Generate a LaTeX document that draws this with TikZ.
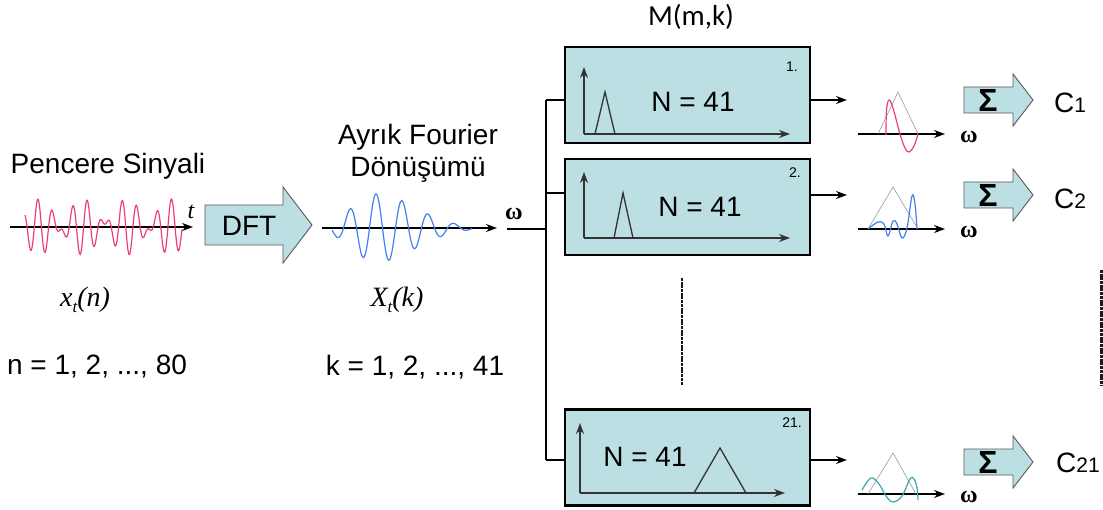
\documentclass[tikz,border=0pt]{standalone}
\usepackage{fontspec}
\setmainfont{Liberation Sans}
\newfontfamily\calibrifont{Carlito}
\newfontfamily\timesfont{Liberation Serif}
\usepackage{tikz}
\usetikzlibrary{arrows.meta,positioning,calc}
\usepackage{xcolor}
\definecolor{boxfill}{RGB}{188,223,227}
\definecolor{sigpink}{RGB}{238,62,122}
\definecolor{sigblue}{RGB}{66,128,240}
\definecolor{sigteal}{RGB}{58,168,168}
\newcommand{\subsc}[1]{\raisebox{-0.45ex}{\fontsize{17}{17}\selectfont #1}}
\newcommand{\cidx}[1]{{\fontsize{21}{21}\selectfont #1}}

\begin{document}
\begin{tikzpicture}[x=1pt, y=-1pt, font=\fontsize{28}{32}\selectfont,
  >={Stealth[length=11pt, width=8pt]},
  filterbox/.style={draw, line width=2.2pt, fill=boxfill, minimum width=245pt,
    minimum height=96pt, inner sep=0pt},
  blockarrow/.style={draw=black!65, line width=0.9pt, fill=boxfill},
  conn/.style={line width=1.5pt},
  minitri/.style={line width=1.3pt, black!80},
  ghosttri/.style={line width=0.6pt, black!40},
  wave/.style={line width=1.2pt},
  omegalab/.style={font=\timesfont\bfseries\fontsize{24}{24}\selectfont},
  numlab/.style={font=\fontsize{14}{14}\selectfont},
  gapline/.style={line width=2.2pt, black!90, dash pattern=on 3pt off 0.7pt}]
\useasboundingbox[fill=white] (0,0) rectangle (1103,510);

% input window signal
\node (pencere) at (108,166) {Pencere Sinyali};
\draw[conn,->] (10,227) -- (193,227);
\draw[wave, sigpink] plot[domain=25:182, samples=300, smooth]
  (\x, {227 - 28*(0.55*sin(\x*21.5) + 0.45*sin(\x*29.7+40))});
\node (tlab) at (191,212) {\timesfont\itshape\fontsize{24}{24}\selectfont t};
\node (xtn) at (85,300) {\timesfont\itshape x\subsc{t}(n)};
\node (nrange) at (97,367) {n = 1, 2, ..., 80};

% DFT block arrow
\draw[blockarrow] (205,205) -- (283,205) -- (283,187) -- (312,225)
  -- (283,263) -- (283,245) -- (205,245) -- cycle;
\node (dft) at (249,226) {DFT};

% spectrum
\node[align=center] (ayrik) at (418,153) {Ayrık Fourier\\Dönüşümü};
\draw[conn,->] (322,228) -- (497,228);
\draw[wave, sigblue] plot[domain=332:376, samples=120, smooth]
  (\x, {228 - 34*exp(-((\x-376)/34)*((\x-376)/34))*cos(13.846*(\x-376))})
  -- plot[domain=376:472, samples=220, smooth]
  (\x, {228 - 34*exp(-((\x-376)/55)*((\x-376)/55))*cos(13.846*(\x-376))});
\node (xtk) at (397,300) {\timesfont\itshape X\subsc{t}(k)};
\node (krange) at (415,367) {k = 1, 2, ..., 41};

% filter bank
\node[omegalab] (om) at (514,214) {ω};
\node (mmk) at (691,17) {\calibrifont\fontsize{29}{29}\selectfont M(m,k)};
\node[filterbox] (box1) at (687.5,95) {};
\node[filterbox] (box2) at (687.5,207) {};
\node[filterbox] (box3) at (687.5,457.5) {};

\coordinate (omstart) at (507,229);
\coordinate (split) at (546,229);
\coordinate (trunktop) at (546,100);
\coordinate (trunkmid) at (546,193);
\coordinate (trunkbot) at (546,460);
\draw[conn] (omstart) -- (split);
\draw[conn] (trunktop) -- (trunkbot);
\draw[conn] (trunktop) -- (box1.west |- trunktop);
\draw[conn] (trunkmid) -- (box2.west |- trunkmid);
\draw[conn] (trunkbot) -- (box3.west |- trunkbot);

% filters inside boxes
\draw[minitri,->] (584,134) -- (584,67);
\draw[minitri,->] (584,134) -- (790,134);
\draw[minitri] (595,134) -- (605,92) -- (615,134);
\node (n1) at (693,102) {N = 41};
\node[numlab] (num1) at (792,67) {1.};

\draw[minitri,->] (584,238) -- (584,172);
\draw[minitri,->] (584,238) -- (790,238);
\draw[minitri] (614,238) -- (623,193) -- (633,238);
\node (n2) at (700,207) {N = 41};
\node[numlab] (num2) at (795,173) {2.};

\draw[minitri,->] (580,493) -- (580,423);
\draw[minitri,->] (580,493) -- (785,493);
\draw[minitri] (694,493) -- (720,448) -- (746,493);
\node (n3) at (645,457) {N = 41};
\node[numlab] (num3) at (792,423) {21.};

% filter outputs
\coordinate (out1) at (847,100);
\coordinate (out2) at (847,195);
\coordinate (out3) at (847,460);
\draw[conn,->] (box1.east |- out1) -- (out1);
\draw[conn,->] (box2.east |- out2) -- (out2);
\draw[conn,->] (box3.east |- out3) -- (out3);

\foreach \ya/\nm in {134/1, 229/2, 494/3} {
  \draw[conn,->] (858,\ya) -- (945,\ya);
  \node[omegalab] (omout\nm) at (969,\ya+3) {ω};
}
\draw[ghosttri] (878,134) -- (898,92) -- (918,134);
\draw[ghosttri] (868,229) -- (893,187) -- (918,229);
\draw[ghosttri] (868,494) -- (893,453) -- (916,494);

\draw[wave, sigpink] plot[smooth, tension=0.6] coordinates {(886,135) (886.5,110) (889,100)
  (893,108) (900,134) (905,148) (909,152) (914,146) (918,134)};
\draw[wave, sigblue] plot[smooth, tension=0.6] coordinates {(868,229) (878,222) (884,224)
  (888,236) (893,221) (897,224) (902,238) (907,228) (912,196) (915,204) (917,229)};
\draw[wave, sigteal] plot[smooth, tension=0.6] coordinates {(862,490) (871,478) (879,484)
  (886,496) (893,502) (902,496) (910,479) (914,479) (917,488) (918,500)};

% summation arrows
\foreach \yc/\nm in {100/1, 195/2, 462/21} {
  \draw[blockarrow] (964,\yc-13) -- (1013,\yc-13) -- (1013,\yc-26) -- (1033,\yc)
    -- (1013,\yc+26) -- (1013,\yc+13) -- (964,\yc+13) -- cycle;
  \node (sum\nm) at (988,\yc) {\fontsize{32}{32}\selectfont\bfseries Σ};
}
\node (c1) at (1070,103) {C\cidx{1}};
\node (c2) at (1070,199) {C\cidx{2}};
\node (c21) at (1078,463) {C\cidx{21}};

% omitted filters
\draw[gapline] (682,278) -- (682,385);
\draw[gapline] (1101.5,270) -- (1101.5,385);
\end{tikzpicture}
\end{document}
